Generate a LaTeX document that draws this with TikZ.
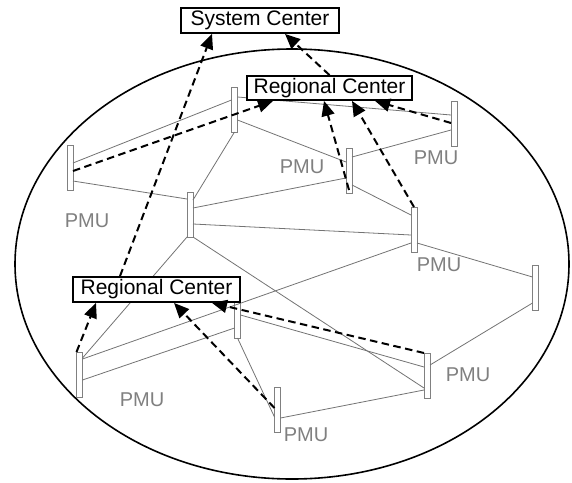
\documentclass[tikz,border=0pt]{standalone}
\usepackage{fontspec}
\setmainfont{Liberation Sans}
\usetikzlibrary{arrows.meta}
\begin{document}
\begin{tikzpicture}[x=1pt,y=-1pt,
  pmubar/.style={draw=black!50, fill=white, line width=0.8pt, minimum width=6pt, minimum height=45pt, inner sep=0pt, outer sep=0pt},
  link/.style={draw=black!55, line width=0.8pt},
  comm/.style={draw=black, line width=2pt, dash pattern=on 7.5pt off 4.5pt, -{Triangle[length=15pt,width=13pt]}},
  ctrbox/.style={draw=black, line width=1.8pt, fill=white, inner sep=0pt, font=\fontsize{21}{24}\selectfont},
  pmulabel/.style={text=black!50, inner sep=0pt, font=\fontsize{20}{24}\selectfont}]
\useasboundingbox (0,0) rectangle (572,482);
\draw[line width=1.6pt] (292,264) ellipse [x radius=277, y radius=215];
% PMU bars
\node[pmubar] (P1) at (234.5,109.5) {};
\node[pmubar] (P2) at (70,167.5) {};
\node[pmubar] (P3) at (190,214.5) {};
\node[pmubar] (P4) at (349,170.5) {};
\node[pmubar] (P5) at (454,124) {};
\node[pmubar] (P6) at (414,229.5) {};
\node[pmubar] (P7) at (535.5,288) {};
\node[pmubar] (P8) at (237.5,315.5) {};
\node[pmubar] (P9) at (79.5,374.5) {};
\node[pmubar] (P10) at (427,375.5) {};
\node[pmubar] (P11) at (277.5,409.5) {};
% grid links
\draw[link] ([yshift=4.5pt]P2.east) -- ([yshift=9.5pt]P1.west);
\draw[link] ([yshift=-13.5pt]P2.east) -- ([yshift=15.5pt]P3.west);
\draw[link] (P1.south) -- ([yshift=14.5pt]P3.east);
\draw[link] ([yshift=-10.5pt]P1.east) -- ([yshift=8.5pt]P4.west);
\draw[link] ([yshift=13.5pt]P4.east) -- ([yshift=-6pt]P5.west);
\draw[link] ([yshift=12.5pt]P1.east) -- ([yshift=9pt]P5.west);
\draw[link] ([yshift=6.5pt]P3.east) -- ([yshift=-7.5pt]P4.west);
\draw[link] ([yshift=-9.5pt]P3.east) -- ([yshift=-5.5pt]P6.west);
\draw[link] ([yshift=-14.5pt]P4.east) -- ([yshift=14.5pt]P6.west);
\draw[link] (P3.south west) -- ([yshift=16.5pt]P9.east);
\draw[link] (P3.south east) -- ([yshift=-12.5pt]P10.west);
\draw[link] ([yshift=-13.5pt]P6.west) -- ([yshift=15.5pt]P9.east);
\draw[link] ([yshift=-13.5pt]P6.east) -- ([yshift=11pt]P7.west);
\draw[link] ([yshift=-15pt]P7.west) -- ([yshift=10.5pt]P10.east);
\draw[link] ([yshift=-12.5pt]P8.west) -- ([yshift=-5.5pt]P9.east);
\draw[link] ([yshift=0.5pt]P8.east) -- ([yshift=8.5pt]P10.west);
\draw[link] (P8.south) -- ([yshift=-7.5pt]P11.west);
\draw[link] ([yshift=-8.5pt]P11.east) -- ([yshift=-14.5pt]P10.west);
% PMU labels
\node[pmulabel] (L1) at (87,221) {PMU};
\node[pmulabel] (L2) at (302,167) {PMU};
\node[pmulabel] (L3) at (436,158) {PMU};
\node[pmulabel] (L4) at (439,265) {PMU};
\node[pmulabel] (L5) at (468,375) {PMU};
\node[pmulabel] (L6) at (142,400) {PMU};
\node[pmulabel] (L7) at (306,435) {PMU};
% centers
\node[ctrbox, minimum width=158pt, minimum height=25pt] (SC) at (260,20.5) {System Center};
\node[ctrbox, minimum width=165pt, minimum height=24pt] (RC1) at (329.5,88) {Regional Center};
\node[ctrbox, minimum width=167pt, minimum height=25pt] (RC2) at (156.5,289.5) {Regional Center};
% communication
\draw[comm] ([xshift=-36.5pt]RC2.north) -- ([xshift=-48pt]SC.south);
\draw[comm] (RC1.north) -- ([xshift=25pt]SC.south);
\draw[comm] ([yshift=-3.5pt]P2.east) -- ([xshift=-56.5pt]RC1.south);
\draw[comm] ([yshift=3pt]P4.south) -- ([xshift=-5.5pt]RC1.south);
\draw[comm] (P6.north) -- ([xshift=22.5pt]RC1.south);
\draw[comm] ([yshift=1pt]P5.west) -- ([xshift=45.5pt]RC1.south);
\draw[comm] (P9.north west) -- ([xshift=-60.5pt]RC2.south);
\draw[comm] ([yshift=1.5pt]P11.west) -- ([xshift=17.5pt]RC2.south);
\draw[comm] (P10.north west) -- ([xshift=55.5pt]RC2.south);
\end{tikzpicture}
\end{document}
